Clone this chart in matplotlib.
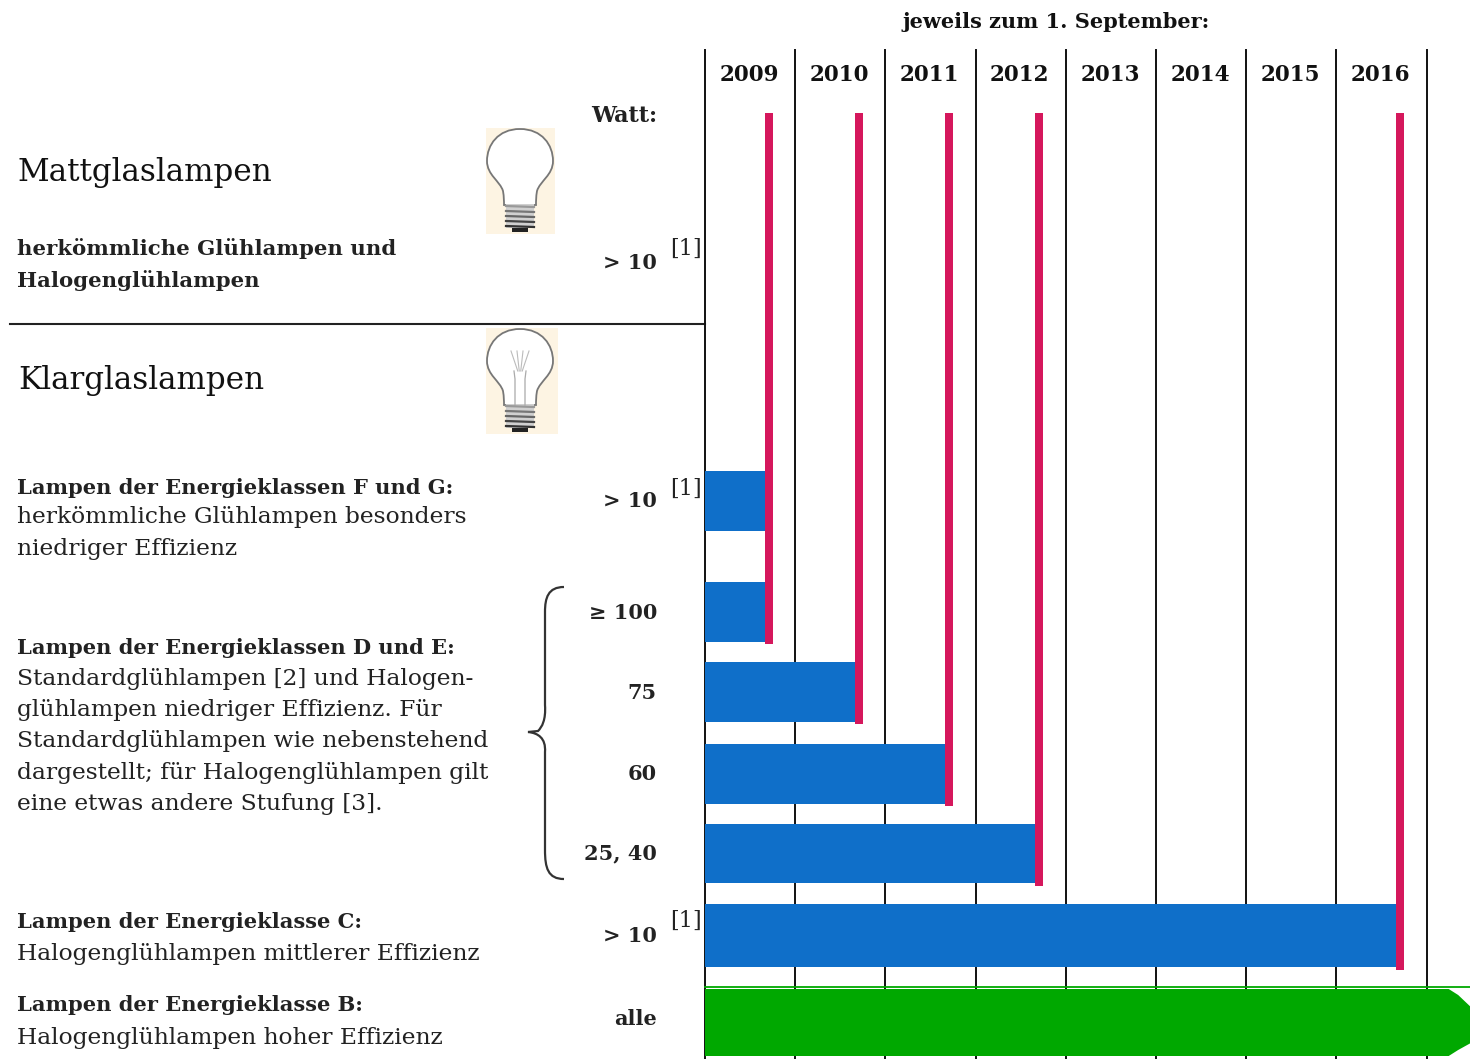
import matplotlib
matplotlib.use("Agg")
import matplotlib.pyplot as plt
from matplotlib.patches import PathPatch, Polygon, Rectangle
from matplotlib.path import Path

W, H = 1470, 1059
FONT = "DejaVu Serif"

years = [2009, 2010, 2011, 2012, 2013, 2014, 2015, 2016]
grid_years = years + [2017]

# phase-out dates (1 September of the year) per row
ban_dates = [2009.66, 2009.66, 2010.66, 2011.66, 2012.66, 2016.66]
watt_labels = ["> 10", "≥ 100", "75", "60", "25, 40", "> 10"]
row_top = [471, 582, 662, 744, 824, 904]
row_bottom = [531, 642, 722, 804, 883, 967]
ban_line_ends = [None, 644, 724, 806, 886, 970]

green_end = 2017.49

BLUE = "#0f6fc9"
RED = "#d5175c"
GREEN = "#00a800"
CREAM = "#fdf4e3"


def bulb(ax, x, y, w, h, clear=False):
    # cream background, glass outline and screw base
    ax.add_patch(Rectangle((x, y), w, h, fc=CREAM, ec="none"))
    cx = x + 34
    top = y + 1
    glass = Path(
        [(cx, top), (cx + 22, top), (cx + 33, top + 16), (cx + 33, top + 32),
         (cx + 33, top + 46), (cx + 20, top + 52), (cx + 17, top + 62),
         (cx + 16, top + 68), (cx + 16, top + 72), (cx + 16, top + 76),
         (cx, top + 76), (cx, top + 76), (cx - 16, top + 76),
         (cx - 16, top + 72), (cx - 16, top + 68), (cx - 17, top + 62),
         (cx - 20, top + 52), (cx - 33, top + 46), (cx - 33, top + 32),
         (cx - 33, top + 16), (cx - 22, top), (cx, top)],
        [Path.MOVETO] + [Path.CURVE4] * 9 + [Path.LINETO] * 3 + [Path.CURVE4] * 9,
    )
    ax.add_patch(PathPatch(glass, fc="white", ec="#777777", lw=1.3))
    if clear:
        for dx in [-9, -3, 3, 9]:
            ax.plot([cx + dx, cx + dx * 0.25], [top + 22, top + 42], color="#bbbbbb", lw=0.8)
        ax.plot([cx - 6, cx - 5, cx - 5], [top + 42, top + 50, top + 76], color="#aaaaaa", lw=0.9)
        ax.plot([cx + 6, cx + 5, cx + 5], [top + 42, top + 50, top + 76], color="#aaaaaa", lw=0.9)
    ax.add_patch(Rectangle((cx - 14, top + 75), 28, 24, fc="#d0d0d0", ec="none"))
    for k, c in enumerate(["#999999", "#777777", "#666666", "#444444", "#333333"]):
        ax.plot([cx - 14, cx + 14], [top + 77 + k * 5, top + 78 + k * 5], color=c, lw=1.6)
    ax.add_patch(Rectangle((cx - 8, top + 99), 16, 4, fc="#222222", ec="none"))


fig = plt.figure(figsize=(W / 100, H / 100), dpi=100)

# page layer in pixel coordinates for the text block
page = fig.add_axes([0, 0, 1, 1])
page.set_xlim(0, W)
page.set_ylim(H, 0)
page.axis("off")

chart = fig.add_axes([705 / W, 0, (W - 705) / W, 1])
chart.set_xlim(2009, 2009 + (W - 705) / 90.2)
chart.set_ylim(H, 0)
chart.axis("off")
chart.patch.set_alpha(0)

for g in grid_years:
    chart.plot([g, g], [50, H], color="#111111", lw=1.4, zorder=1, clip_on=False)

for i in range(len(row_top)):
    chart.barh((row_top[i] + row_bottom[i]) / 2, ban_dates[i] - 2009, left=2009,
               height=row_bottom[i] - row_top[i], color=BLUE, zorder=2)

# red lines, one per phase-out date, from just below the year labels
for d, end in zip(ban_dates[1:], ban_line_ends[1:]):
    chart.bar(d + 0.045, end - 113, width=0.09, bottom=113, color=RED, zorder=3)

# green row with its chamfered end
tip = green_end - 0.245
chart.add_patch(Polygon([(2009, 989), (tip, 989), (green_end - 0.14, 995), (green_end, 1007),
                         (green_end, 1043), (green_end - 0.14, 1050), (tip, 1056), (2009, 1056)],
                        fc=GREEN, ec="none", zorder=2))
chart.plot([2009, green_end], [987, 987], color=GREEN, lw=1.3, zorder=2, clip_on=False)

for y in years:
    chart.text(y + 0.49, 75, str(y), ha="center", va="center", family=FONT, weight="bold", fontsize=15.5, color="#111111")
chart.text(2012.89, 22, "jeweils zum 1. September:", ha="center", va="center", family=FONT, weight="bold", fontsize=15, color="#111111")

page.plot([10, 705], [324, 324], color="#222222", lw=1.5)

bulb(page, 486, 128, 69, 106)
bulb(page, 486, 328, 72, 106, clear=True)

# left text column
page.text(18, 172, "Mattglaslampen", family=FONT, fontsize=22.3, va="center", color="#111111")
page.text(18, 381, "Klarglaslampen", family=FONT, fontsize=22.3, va="center", color="#111111")


def t(x, y, s, bold=False, size=16.8, ha="left"):
    page.text(x, y, s, family=FONT, weight="bold" if bold else "normal", fontsize=size, va="center", ha=ha, color="#222222")


t(17, 249, "herkömmliche Glühlampen und", True, 15.3)
t(17, 281, "Halogenglühlampen", True, 15.3)
t(17, 488, "Lampen der Energieklassen F und G:", True, 15.1)
t(17, 517, "herkömmliche Glühlampen besonders")
t(17, 549, "niedriger Effizienz")
t(17, 648, "Lampen der Energieklassen D und E:", True, 15.1)
t(17, 679, "Standardglühlampen [2] und Halogen-")
t(17, 710, "glühlampen niedriger Effizienz. Für")
t(17, 741, "Standardglühlampen wie nebenstehend")
t(17, 773, "dargestellt; für Halogenglühlampen gilt")
t(17, 804, "eine etwas andere Stufung [3].")
t(17, 922, "Lampen der Energieklasse C:", True, 15.1)
t(17, 954, "Halogenglühlampen mittlerer Effizienz")
t(17, 1005, "Lampen der Energieklasse B:", True, 15.1)
t(17, 1038, "Halogenglühlampen hoher Effizienz")

# watt column
t(657, 116, "Watt:", True, 16, "right")
t(657, 263, "> 10", True, 15, "right")
for i, lab in enumerate(watt_labels):
    t(657, (row_top[i] + row_bottom[i]) / 2 + (1 if i else 0) - (1 if i >= 3 else 0), lab, True, 15, "right")
t(657, 1019, "alle", True, 15, "right")
for y in [249, 489, 921]:
    t(670, y, "[1]", size=16)

# curly brace next to the D/E rows
brace = Path(
    [(564, 587), (548, 587), (545, 598), (545, 612), (545, 705), (546, 720), (542, 727),
     (538, 731), (528, 732), (538, 733), (546, 738), (545, 752), (545, 850), (545, 868),
     (548, 879), (564, 879)],
    [Path.MOVETO, Path.CURVE4, Path.CURVE4, Path.CURVE4, Path.LINETO, Path.CURVE4, Path.CURVE4,
     Path.CURVE4, Path.LINETO, Path.CURVE4, Path.CURVE4, Path.CURVE4, Path.LINETO, Path.CURVE4,
     Path.CURVE4, Path.CURVE4],
)
page.add_patch(PathPatch(brace, fc="none", ec="#333333", lw=1.6))

fig.savefig("out.png", dpi=100)
